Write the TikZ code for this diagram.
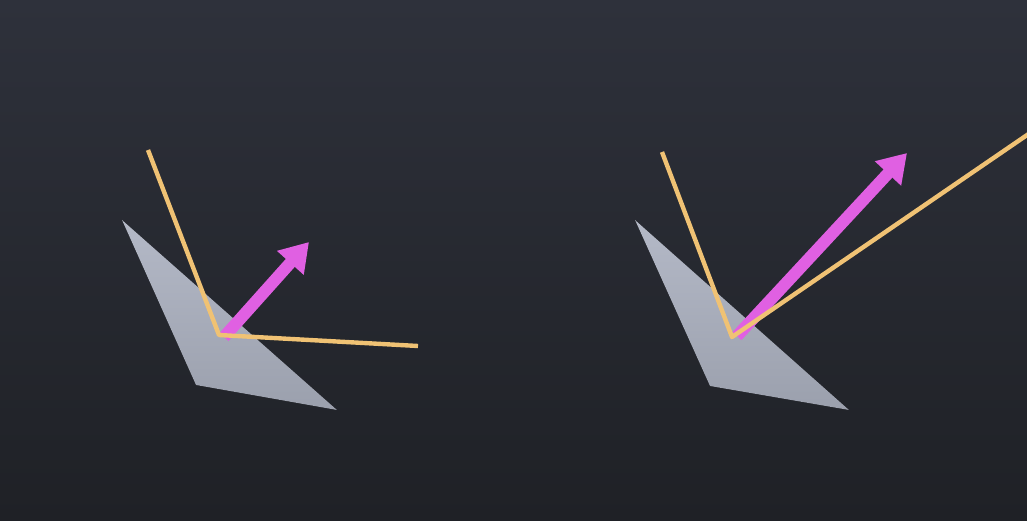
\documentclass[tikz,border=0pt]{standalone}
\usepackage{tikz}
\usetikzlibrary{arrows.meta}

\begin{document}
\begin{tikzpicture}[x=1pt,y=-1pt,
  ray/.style={draw=rayc,line width=4.4pt,line join=round},
  normal/.style={draw=normc,line width=12pt,-{Triangle[length=28pt,width=34pt]}},
  face/.style={top color=facetop,bottom color=facebot,draw=none}]
\definecolor{bgtop}{HTML}{2E313B}
\definecolor{bgbot}{HTML}{1F2126}
\definecolor{facetop}{HTML}{B4B9C7}
\definecolor{facebot}{HTML}{9BA0AD}
\definecolor{rayc}{HTML}{F0C274}
\definecolor{normc}{HTML}{E060E2}
\useasboundingbox (0,0) rectangle (1027,521);
\shade[top color=bgtop,bottom color=bgbot] (0,0) rectangle (1027,521);
% left: small normal
\coordinate (la) at (122,220); \coordinate (lb) at (196,385); \coordinate (lc) at (337,410);
\fill[face] (la) -- (lb) -- (lc) -- cycle;
\coordinate (lin) at (148,150); \coordinate (lhit) at (219,335); \coordinate (lout) at (418,346);
\coordinate (lns) at (224,337); \coordinate (lnt) at (309,242);
\draw[normal] (lns) -- (lnt);
\draw[ray] (lin) -- (lhit) -- (lout);
% right: long normal
\coordinate (ra) at (635,220); \coordinate (rb) at (710,386); \coordinate (rc) at (849,410);
\fill[face] (ra) -- (rb) -- (rc) -- cycle;
\coordinate (rin) at (662,152); \coordinate (rhit) at (732,337); \coordinate (rout) at (1030,133);
\coordinate (rns) at (737,336); \coordinate (rnt) at (907,153);
\draw[normal] (rns) -- (rnt);
\draw[ray] (rin) -- (rhit) -- (rout);
\end{tikzpicture}
\end{document}
